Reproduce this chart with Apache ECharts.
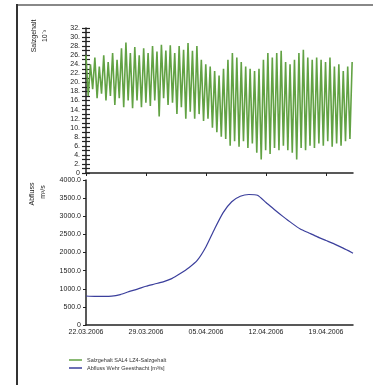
<!DOCTYPE html>
<html>
<head>
<meta charset="utf-8">
<script src="https://cdn.jsdelivr.net/npm/echarts@6/dist/echarts.min.js"></script>
<style>
  html, body { margin: 0; padding: 0; background: #fff; }
  #chart { width: 380px; height: 385px; }
</style>
</head>
<body>
<div id="chart"></div>
<script>
// days since 22.03.2006
const startDate = Date.UTC(2006, 2, 22);
const dayTicks = [0, 7, 14, 21, 28];
const endDay = 31.15;

// salinity, alternating high / low water, half tidal cycle apart
const saltStepDays = 0.25875;
const saltHighs = [
  26.0, 24.0, 25.5, 23.5, 26.0, 24.5, 26.5, 25.0, 27.5, 28.8,
  26.5, 27.8, 26.0, 27.5, 26.5, 28.0, 26.8, 28.3, 27.0, 28.2,
  26.5, 28.0, 27.2, 28.7, 27.0, 28.0, 25.0, 24.0, 23.5, 22.5,
  21.5, 23.0, 25.0, 26.5, 25.5, 24.5, 23.5, 23.0, 22.5, 23.0,
  25.0, 26.5, 25.5, 26.5, 27.0, 24.5, 24.0, 25.0, 26.5, 27.2,
  25.5, 25.0, 25.5, 25.0, 24.5, 25.5, 23.5, 24.0, 22.5, 23.5,
  24.5
];
const saltLows = [
  17.0, 18.5, 16.5, 17.5, 16.0, 17.0, 15.0, 16.5, 14.5, 16.0,
  14.3, 16.0, 14.5, 15.5, 14.8, 16.0, 12.5, 16.5, 15.0, 15.5,
  13.0, 14.5, 12.0, 13.5, 12.0, 13.0, 11.5, 12.0, 10.0, 9.0,
  8.0, 7.5, 6.0, 7.0, 5.8, 7.0, 5.5, 6.5, 4.5, 3.0,
  5.0, 4.2, 5.5, 5.0, 6.0, 5.0, 4.5, 3.0, 5.5, 5.0,
  6.0, 5.5, 6.5, 6.0, 7.0, 5.8, 6.5, 6.0, 7.0, 7.5
];

// discharge Wehr Geesthacht [m3/s]
const flowDays = [0, 1, 2, 3, 4, 5, 6, 7, 8, 9, 10, 11, 12, 13, 14, 15, 16,
  17, 18, 19, 20, 21, 22, 23, 24, 25, 26, 27, 28, 29, 30, 31, 31.15];
const flowValues = [800, 790, 790, 795, 840, 920, 990, 1070, 1130, 1190, 1280,
  1420, 1580, 1790, 2160, 2650, 3100, 3400, 3550, 3600, 3580, 3380, 3180, 2990,
  2810, 2650, 2540, 2430, 2330, 2230, 2120, 2000, 1980];

const saltTicks = [32, 30, 28, 26, 24, 22, 20, 18, 16, 14, 12, 10, 8, 6, 4, 2, 0];

const saltData = [];
saltHighs.forEach((h, i) => {
  saltData.push([i * 2 * saltStepDays, h]);
  if (i < saltLows.length) saltData.push([(i * 2 + 1) * saltStepDays, saltLows[i]]);
});
const flowData = flowDays.map((d, i) => [d, flowValues[i]]);

const pad = (n) => (n < 10 ? "0" + n : "" + n);
const fmtDay = (d) => {
  const t = new Date(startDate + d * 86400000);
  return pad(t.getUTCDate()) + "." + pad(t.getUTCMonth() + 1) + "." + t.getUTCFullYear();
};

const font = "Liberation Sans, Arial, sans-serif";
const axisLine = { lineStyle: { color: "#222", width: 1.5 } };
const green = "#62a244";
const blue = "#3b3f9c";

const chart = echarts.init(document.getElementById("chart"));
chart.setOption({
  animation: false,
  grid: [
    { left: 86, top: 28, width: 267, height: 145 },
    { left: 86, top: 180, width: 267, height: 145 }
  ],
  xAxis: [
    {
      type: "value", gridIndex: 0, min: 0, max: endDay,
      axisLine: axisLine,
      axisTick: { show: true, length: 3, customValues: dayTicks, lineStyle: { color: "#222" } },
      axisLabel: { show: false },
      splitLine: { show: false }
    },
    {
      type: "value", gridIndex: 1, min: 0, max: endDay,
      axisLine: axisLine,
      axisTick: { show: false },
      axisLabel: {
        customValues: dayTicks, formatter: fmtDay, fontSize: 7,
        fontFamily: font, color: "#222", margin: 4
      },
      splitLine: { show: false }
    }
  ],
  yAxis: [
    {
      type: "value", gridIndex: 0, position: "left", min: 0, max: 32, interval: 2,
      axisLine: axisLine,
      axisTick: { length: 4, lineStyle: { color: "#222", width: 1.2 } },
      minorTick: { show: true, splitNumber: 2, length: 4, lineStyle: { color: "#222", width: 1.2 } },
      axisLabel: {
        customValues: saltTicks,
        formatter: (v) => (v === 0 ? "0" : v + "."),
        fontSize: 7, fontFamily: font, color: "#222", margin: 6
      },
      splitLine: { show: false }
    },
    {
      type: "value", gridIndex: 0, position: "left", min: 0, max: 32, interval: 2,
      axisLine: { show: false },
      axisTick: { inside: true, length: 4, lineStyle: { color: "#222", width: 1.2 } },
      minorTick: { show: true, splitNumber: 2, length: 4, lineStyle: { color: "#222", width: 1.2 } },
      axisLabel: { show: false },
      splitLine: { show: false }
    },
    {
      type: "value", gridIndex: 1, position: "left", min: 0, max: 4000, interval: 500,
      axisLine: axisLine,
      axisTick: { length: 3, lineStyle: { color: "#222" } },
      axisLabel: {
        formatter: (v) => (v === 0 ? "0" : v.toFixed(1)),
        fontSize: 7, fontFamily: font, color: "#222", margin: 5
      },
      splitLine: { show: false }
    }
  ],
  legend: {
    orient: "vertical", left: 64, top: 352,
    icon: "rect", itemWidth: 13, itemHeight: 1.5, itemGap: 2,
    textStyle: { fontSize: 5.5, fontFamily: font, color: "#333" },
    data: ["Salzgehalt SAL4 LZ4-Salzgehalt", "Abfluss Wehr Geesthacht [m³/s]"]
  },
  graphic: [
    { type: "line", shape: { x1: 17, y1: 5, x2: 373, y2: 5 }, style: { stroke: "#888", lineWidth: 2 } },
    { type: "line", shape: { x1: 17, y1: 4, x2: 17, y2: 385 }, style: { stroke: "#333", lineWidth: 2 } },
    { type: "text", x: 34, y: 36, rotation: Math.PI / 2,
      style: { text: "Salzgehalt", fontSize: 7, fontFamily: font, fill: "#222", align: "center", verticalAlign: "middle" } },
    { type: "text", x: 45, y: 36, rotation: Math.PI / 2,
      style: { text: "10⁻³", fontSize: 7, fontFamily: font, fill: "#222", align: "center", verticalAlign: "middle" } },
    { type: "text", x: 32, y: 194, rotation: Math.PI / 2,
      style: { text: "Abfluss", fontSize: 7, fontFamily: font, fill: "#222", align: "center", verticalAlign: "middle" } },
    { type: "text", x: 43, y: 192, rotation: Math.PI / 2,
      style: { text: "m³/s", fontSize: 7, fontFamily: font, fill: "#222", align: "center", verticalAlign: "middle" } }
  ],
  series: [
    {
      name: "Salzgehalt SAL4 LZ4-Salzgehalt", type: "line",
      xAxisIndex: 0, yAxisIndex: 0, data: saltData,
      showSymbol: false, lineStyle: { color: green, width: 1.6 }, itemStyle: { color: green }
    },
    {
      name: "Abfluss Wehr Geesthacht [m³/s]", type: "line",
      xAxisIndex: 1, yAxisIndex: 2, data: flowData,
      showSymbol: false, smooth: 0.2, lineStyle: { color: blue, width: 1.2 }, itemStyle: { color: blue }
    }
  ]
});
</script>
</body>
</html>
